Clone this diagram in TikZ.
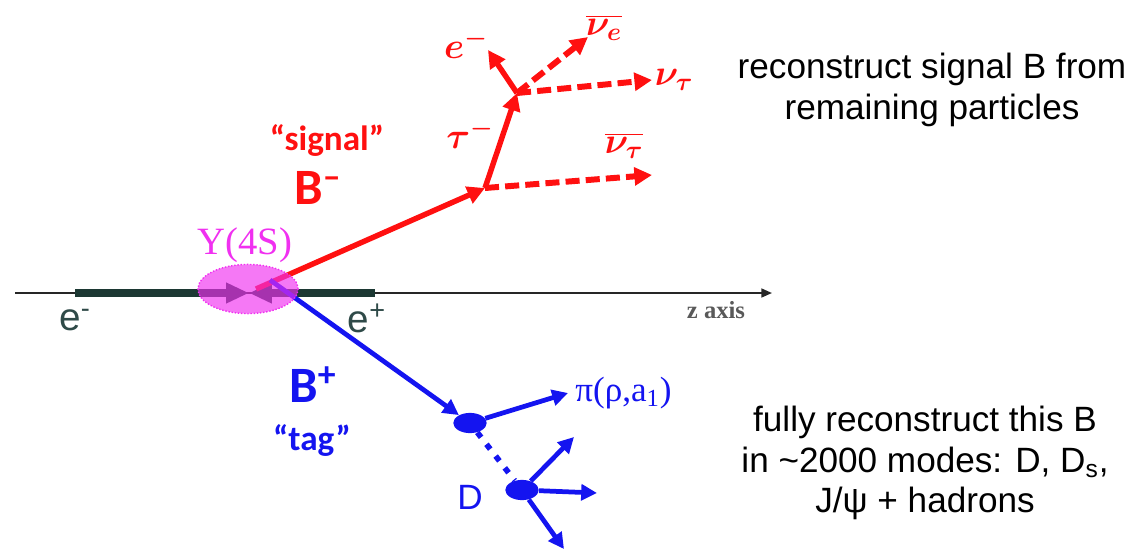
\documentclass[tikz,border=0pt]{standalone}
\usepackage{fontspec}
\setmainfont{Liberation Sans}
\newfontfamily\calib{Carlito}
\newfontfamily\tms{Liberation Serif}
\usetikzlibrary{arrows.meta, shapes.geometric}
\definecolor{sigred}{HTML}{FF1010}
\definecolor{tagblue}{HTML}{1414F0}
\definecolor{beamdark}{HTML}{1C3833}
\definecolor{elbl}{HTML}{2F4A48}
\definecolor{upsmag}{HTML}{F030F0}
\tikzset{
  redarr/.style={-{Triangle[length=10pt, width=10pt]}, line width=3.1pt, sigred},
  nuarr/.style={redarr, line width=3.4pt, dash pattern=on 8pt off 3.5pt},
  bluearr/.style={-{Triangle[length=9pt, width=9pt]}, line width=2.7pt, tagblue},
  beamarr/.style={-{Triangle[length=13pt, width=11pt]}, line width=4.5pt, beamdark},
  vtx/.style={ellipse, fill=tagblue, inner sep=0pt, minimum width=19pt, minimum height=11.5pt},
  ptcl/.style={sigred, font=\fontsize{21}{24}\selectfont\boldmath},
  bigB/.style={font=\calib\bfseries\fontsize{29}{32}\selectfont},
  quot/.style={font=\calib\bfseries\fontsize{20}{22}\selectfont},
  note/.style={align=center, font=\fontsize{20}{23}\selectfont},
}
\begin{document}
\begin{tikzpicture}[x=0.02cm, y=-0.02cm]
  \useasboundingbox (0,0) rectangle (1137,549);

  % beam axis
  \coordinate (ax0) at (15,293);
  \coordinate (ax1) at (772,293);
  \coordinate (bl) at (75,293);
  \coordinate (br) at (375,293);
  \coordinate (ipl) at (249,293);
  \coordinate (ipr) at (249,293);
  \draw[-{Triangle[length=6pt, width=5pt]}, line width=1.1pt, black!85] (ax0) -- (ax1);
  \draw[beamarr] (bl) -- (ipl);
  \draw[beamarr] (br) -- (ipr);
  \node[elbl, font=\fontsize{22}{24}\selectfont] (em) at (75,320) {e\textsuperscript{-}};
  \node[elbl, font=\fontsize{22}{24}\selectfont] (ep) at (367,318) {e\textsuperscript{+}};
  \node[black!65, font=\tms\bfseries\fontsize{14}{16}\selectfont] (zax) at (716,310) {z axis};

  % signal side
  \coordinate (ip) at (256,289);
  \coordinate (kink) at (485,188);
  \coordinate (tdec) at (517,93);
  \coordinate (eend) at (488,50);
  \coordinate (nuebar) at (588,37);
  \coordinate (nut) at (652,80);
  \coordinate (nutbar) at (652,175);
  \draw[redarr] (ip) -- (kink);
  \draw[redarr] (kink) -- (tdec);
  \draw[nuarr] (kink) -- (nutbar);
  \draw[redarr] (tdec) -- (eend);
  \draw[nuarr] (tdec) -- (nuebar);
  \draw[nuarr] (tdec) -- (nut);
  \node[ptcl] (le) at (466,44) {$e^{-}$};
  \node[ptcl] (lnue) at (604,28) {$\overline{\nu_e}$};
  \node[ptcl] (lnut) at (674,80) {$\nu_\tau$};
  \node[ptcl] (ltau) at (470,134) {$\tau^{-}$};
  \node[ptcl] (lnutb) at (624,146) {$\overline{\nu_\tau}$};
  \node[sigred, quot] (sig) at (327,140) {“signal”};
  \node[sigred, bigB] (bm) at (318,188) {B\textsuperscript{\textendash}};

  % tag side
  \coordinate (ipb) at (270,280);
  \node[vtx] (v1) at (470,423) {};
  \node[vtx] (v2) at (522,490) {};
  \coordinate (pie) at (568,393);
  \coordinate (d1) at (574,437);
  \coordinate (d2) at (597,493);
  \coordinate (d3) at (564,549);
  \draw[bluearr] (ipb) -- (v1);
  \draw[bluearr] (v1) -- (pie);
  \draw[tagblue, line width=3.2pt, dash pattern=on 3.5pt off 5pt] (v1) -- (v2);
  \draw[bluearr] (v2) -- (d1);
  \draw[bluearr] (v2) -- (d2);
  \draw[bluearr] (v2) -- (d3);
  \node[tagblue, font=\tms\fontsize{20}{24}\selectfont, anchor=west, inner sep=0pt] (lpi) at (575,393) {π(ρ,a\textsubscript{1})};
  \node[tagblue, font=\fontsize{20}{22}\selectfont] (ld) at (470,497) {D};
  \node[tagblue, bigB] (bp) at (313,385) {B\textsuperscript{+}};
  \node[tagblue, quot] (tag) at (312,440) {“tag”};

  % Y(4S)
  \node[ellipse, draw=upsmag, densely dotted, thick, fill=upsmag, fill opacity=0.65,
        minimum width=57pt, minimum height=28pt] (ups) at (248,289) {};
  \node[upsmag, font=\tms\fontsize{22}{24}\selectfont] (lups) at (245,245) {Y(4S)};

  % captions
  \node[note] (sigtxt) at (932,90) {reconstruct signal B from\\remaining particles};
  \node[note] (tagtxt) at (925,463) {fully reconstruct this B\\in \textasciitilde2000 modes: D, D\textsubscript{s},\\J/ψ + hadrons};
\end{tikzpicture}
\end{document}
